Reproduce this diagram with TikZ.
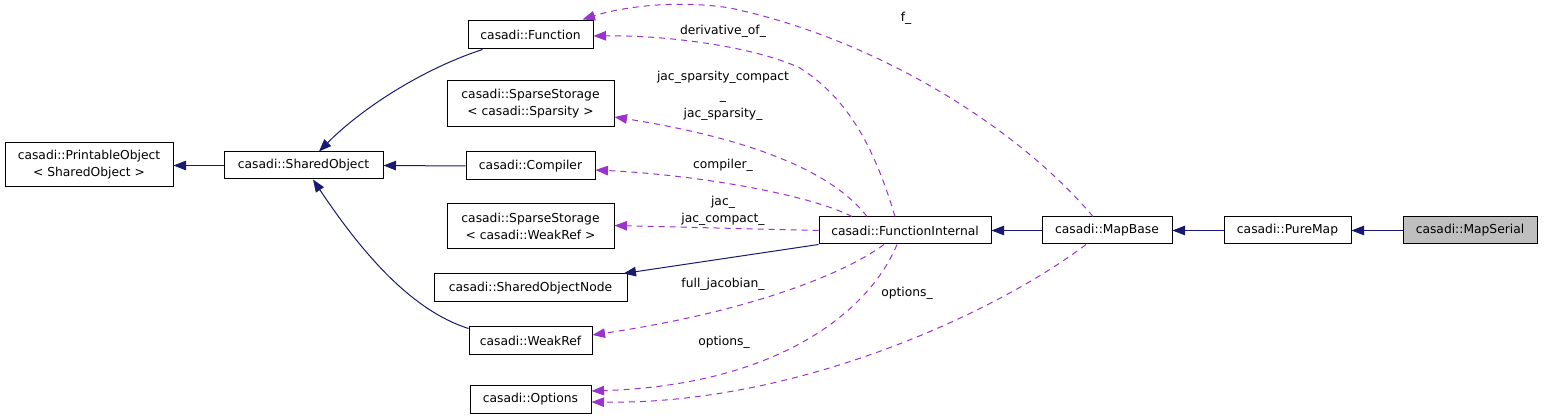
\documentclass[tikz,border=0pt]{standalone}
\usepackage{fontspec}
\setmainfont{DejaVu Sans}
\usetikzlibrary{arrows.meta,calc}
\definecolor{navy}{RGB}{25,25,112}
\definecolor{orchid}{RGB}{154,50,205}
\definecolor{graybox}{RGB}{191,191,191}
\tikzset{
  box/.style={draw=black, line width=1pt, fill=white, inner sep=0pt, align=center,
    font=\fontsize{12.3pt}{17pt}\selectfont},
  inh/.style={draw=navy, line width=1pt, -{Triangle[length=12.5pt,width=9.5pt]}},
  dep/.style={draw=orchid, line width=1pt, dash pattern=on 6pt off 5pt,
    -{Triangle[length=12.5pt,width=9.5pt]}},
  lbl/.style={align=center, inner sep=0pt, font=\fontsize{12.3pt}{18.5pt}\selectfont}
}
\begin{document}
\begin{tikzpicture}[x=1pt,y=-1pt]
\useasboundingbox (0,0) rectangle (1544,419);
% nodes
\node[box, minimum width=168pt, minimum height=44pt] (po) at (89,165) {casadi::PrintableObject\\< SharedObject >};
\node[box, minimum width=159pt, minimum height=27pt] (so) at (303.5,165.5) {casadi::SharedObject};
\node[box, minimum width=125pt, minimum height=28pt] (fn) at (530.5,35) {casadi::Function};
\node[box, minimum width=167pt, minimum height=46pt] (ss1) at (530.5,104) {casadi::SparseStorage\\< casadi::Sparsity >};
\node[box, minimum width=129pt, minimum height=28pt] (comp) at (530.5,166) {casadi::Compiler};
\node[box, minimum width=167pt, minimum height=45pt] (ss2) at (530.5,226.5) {casadi::SparseStorage\\< casadi::WeakRef >};
\node[box, minimum width=193pt, minimum height=28pt] (son) at (530.5,288) {casadi::SharedObjectNode};
\node[box, minimum width=123pt, minimum height=28pt] (wr) at (530.5,341) {casadi::WeakRef};
\node[box, minimum width=121pt, minimum height=28pt] (opt) at (530.5,399) {casadi::Options};
\node[box, minimum width=172pt, minimum height=27pt] (fi) at (905,230.5) {casadi::FunctionInternal};
\node[box, minimum width=130pt, minimum height=27pt] (mb) at (1107,230.5) {casadi::MapBase};
\node[box, minimum width=127pt, minimum height=27pt] (pm) at (1287.5,230.5) {casadi::PureMap};
\node[box, fill=graybox, minimum width=134pt, minimum height=27pt] (ms) at (1470,230.5) {casadi::MapSerial};
% inheritance edges
\draw[inh] (so.west) -- (po.east |- so.west);
\draw[inh] ($(fn.south west)+(15,0)$) .. controls (420,70) and (360,110) .. ($(so.north)+(15.5,0)$);
\draw[inh] (comp.west) -- (so.east);
\draw[inh] ($(wr.north west)+(0,2)$) .. controls (410,310) and (360,250) .. ($(so.south)+(9.5,0)$);
\draw[inh] (fi.south west) -- ($(son.north east)+(-4,0)$);
\draw[inh] (mb.west) -- (fi.east);
\draw[inh] (pm.west) -- (mb.east);
\draw[inh] (ms.west) -- (pm.east);
% dependency edges
\draw[dep] ($(mb.north)+(-14,0)$) .. controls (1020,130) and (880,40) .. (730,8)
  .. controls (680,0) and (625,6) .. ($(fn.north east)+(-11,-1)$);
\draw[dep] ($(fi.north)+(-10,0)$) .. controls (875,150) and (850,100) .. (800,68)
  .. controls (750,45) and (660,35) .. ($(fn.east)+(0,1)$);
\draw[dep] ($(fi.north)+(-38,0)$) .. controls (835,175) and (760,140) .. ($(ss1.east)+(0,13)$);
\draw[dep] ($(fi.north)+(-53,0)$) .. controls (810,195) and (700,175) .. ($(comp.east)+(0,4)$);
\draw[dep] (fi.west) -- ($(ss2.east)+(0,-1)$);
\draw[dep] ($(fi.south)+(-21,0)$) .. controls (850,270) and (760,310) .. ($(wr.east)+(0,-6)$);
\draw[dep] ($(fi.south)+(-8,0)$) .. controls (870,310) and (780,385) .. ($(opt.east)+(0,-8)$);
\draw[dep] ($(mb.south)+(-21,0)$) .. controls (1000,310) and (800,405) .. ($(opt.east)+(0,3)$);
% labels
\node[lbl] (l1) at (906,18) {f\_};
\node[lbl] (l2) at (723,31) {derivative\_of\_};
\node[lbl] (l3) at (723,96) {jac\_sparsity\_compact\\\_\\jac\_sparsity\_};
\node[lbl, font=\fontsize{12.3pt}{17pt}\selectfont] (l5) at (723,211) {jac\_\\jac\_compact\_};
\node[lbl] (l4) at (723,165) {compiler\_};
\node[lbl] (l6) at (723,284) {full\_jacobian\_};
\node[lbl] (l7) at (724,342) {options\_};
\node[lbl] (l8) at (907,293) {options\_};
\end{tikzpicture}
\end{document}
